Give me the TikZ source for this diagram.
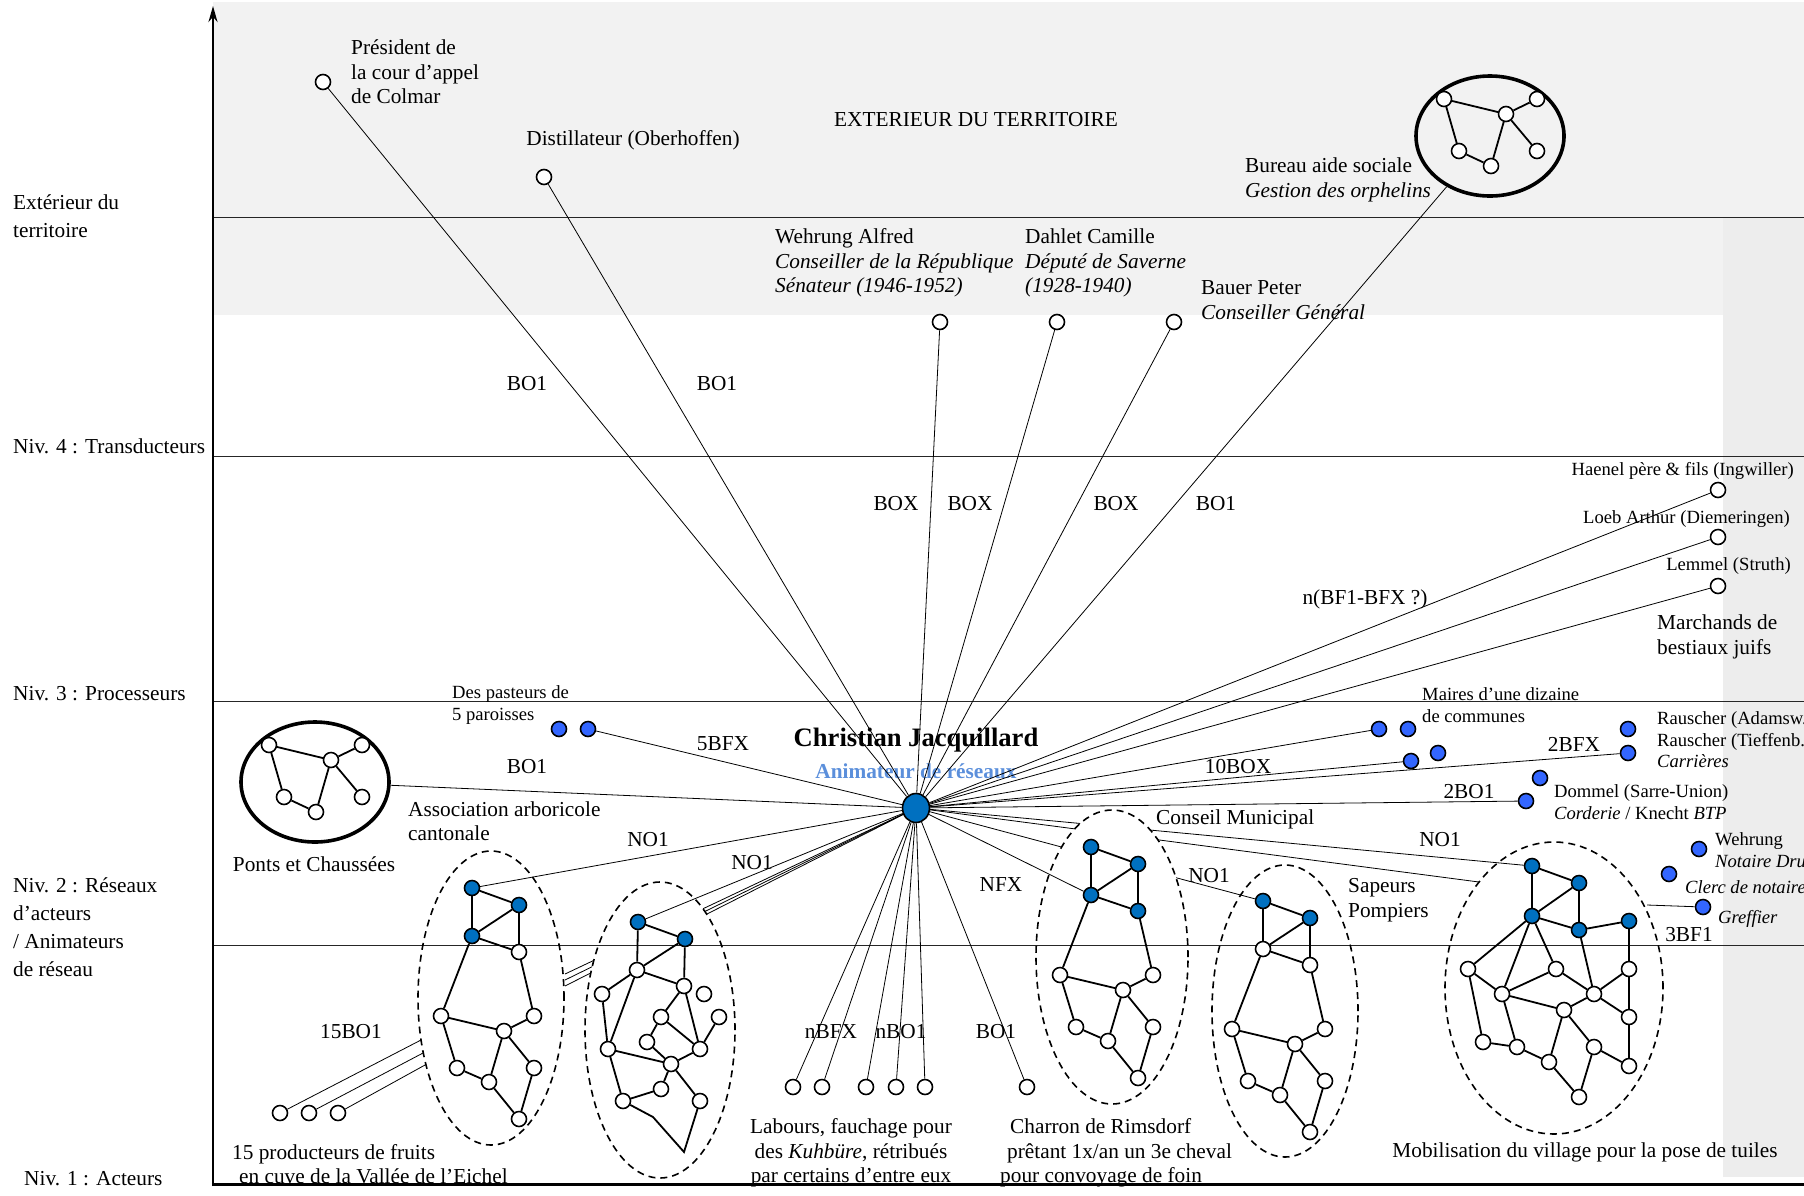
\documentclass[tikz,border=0pt]{standalone}
\usepackage{fontspec}
\setmainfont{Liberation Serif}
\usetikzlibrary{shapes.geometric,arrows.meta}
\pgfdeclarelayer{bg}
\pgfdeclarelayer{mid}
\pgfsetlayers{bg,mid,main}
\definecolor{netblue}{HTML}{0070C0}
\definecolor{dotblue}{HTML}{3366FF}
\definecolor{animblue}{HTML}{5B8FDB}
\definecolor{topgray}{HTML}{F2F2F2}
\definecolor{stripgray}{HTML}{EDEDED}
\tikzset{
 txt/.style={font=\fontsize{21.3}{24.5}\selectfont, inner sep=0pt, align=left},
 stxt/.style={font=\fontsize{18.6}{21.5}\selectfont, inner sep=0pt, align=left},
 lvltxt/.style={font=\fontsize{21.3}{28.2}\selectfont, inner sep=0pt, align=left, anchor=west},
 elab/.style={font=\fontsize{21.3}{24.5}\selectfont, inner sep=0pt},
 wn/.style={circle, draw, line width=1.6pt, fill=white, minimum size=15pt, inner sep=0pt},
 bn/.style={wn, fill=netblue},
 dn/.style={wn, fill=dotblue},
 nedge/.style={line width=1.8pt},
 conn/.style={line width=0.8pt},
 netell/.style={ellipse, draw, dash pattern=on 7pt off 5pt, line width=1.6pt, inner sep=0pt},
 ringell/.style={ellipse, draw, line width=3.6pt, inner sep=0pt, minimum width=148pt, minimum height=120pt},
 lvlline/.style={line width=1pt, black!85},
}
\newcommand\treenet[4]{%
 \foreach \nn/\px/\py in {1/0/0,2/47/17,3/0/48,4/47/64,5/-31/128,6/62/128,7/32/143,8/-15/180,9/17/194,10/62/180,11/47/231}{%
  \ifnum\nn>#4\relax
   \node[wn] (#1\nn) at ({#2+\px},{#3+\py}) {};
  \else
   \node[bn] (#1\nn) at ({#2+\px},{#3+\py}) {};
  \fi
 }%
 \foreach \ea/\eb in {1/2,1/3,2/3,2/4,3/4,3/5,4/6,5/7,6/7,5/8,8/9,7/9,7/10,10/11,9/11}{\draw[nedge] (#1\ea) -- (#1\eb);}%
}
\newcommand\ringnet[3]{%
 \node[ringell] (#1ell) at (#2,#3) {};
 \foreach \nn/\px/\py in {1/-46/-37,2/47/-37,3/16/-22,4/-31/15,5/1/30,6/47/15}{\node[wn] (#1\nn) at ({#2+\px},{#3+\py}) {};}
 \foreach \ea/\eb in {1/3,3/2,1/4,4/5,5/3,3/6}{\draw[nedge] (#1\ea) -- (#1\eb);}%
}
\begin{document}
\begin{tikzpicture}[x=1pt,y=-1pt]
\useasboundingbox (0,0) rectangle (1804,1195);
\begin{pgfonlayer}{bg}
 \fill[topgray] (213,2) rectangle (1804,315);
 \fill[stripgray] (1723,217) rectangle (1804,1177);
\end{pgfonlayer}

% level labels
\node[lvltxt] (lv0) at (13,216) {Extérieur du\\territoire};
\node[lvltxt] (lv4) at (13,446) {Niv. 4 : Transducteurs};
\node[lvltxt] (lv3) at (13,694) {Niv. 3 : Processeurs};
\node[lvltxt] (lv2) at (13,927) {Niv. 2 : Réseaux\\d’acteurs\\/ Animateurs\\de réseau};
\node[lvltxt] (lv1) at (24,1179) {Niv. 1 : Acteurs};

% axes
\draw[line width=2.4pt, -{Stealth[length=16pt,width=9pt]}] (213,1186) -- (213,6);
\draw[line width=3pt] (211.8,1184) -- (1804,1184);

% centre
\node[ellipse, draw, line width=1.6pt, fill=netblue, minimum width=27pt, minimum height=29pt, inner sep=0pt] (cj) at (916,808) {};
\node[font=\bfseries\fontsize{26.6}{30}\selectfont, inner sep=0pt] (cjname) at (916,740) {Christian Jacquillard};
\node[font=\bfseries\fontsize{21.3}{24}\selectfont, text=animblue, inner sep=0pt] (cjrole) at (916,771) {Animateur de réseaux};

% exterior
\node[wn] (pres) at (323,82) {};
\node[txt, anchor=west] (preslab) at (351,72) {Président de\\la cour d’appel\\de Colmar};
\node[wn] (dist) at (544,177) {};
\node[txt] (distlab) at (633,140) {Distillateur (Oberhoffen)};
\node[txt] (ext) at (976,120) {EXTERIEUR DU TERRITOIRE};
\ringnet{bur}{1490}{136}
\node[txt, anchor=west] (burlab) at (1245,180) {Bureau aide sociale\\\textit{Gestion des orphelins}};
\node[wn] (walf) at (940,322) {};
\node[txt, anchor=west] (walflab) at (775,263) {Wehrung Alfred\\\textit{Conseiller de la République}\\\textit{Sénateur (1946-1952)}};
\node[wn] (dahl) at (1057,322) {};
\node[txt, anchor=west] (dahllab) at (1025,263) {Dahlet Camille\\\textit{Député de Saverne}\\\textit{(1928-1940)}};
\node[wn] (bauer) at (1174,322) {};
\node[txt, anchor=west] (bauerlab) at (1201,300) {Bauer Peter\\\textit{Conseiller Général}};

% marchands
\node[wn] (haen) at (1718,490) {};
\node[stxt, anchor=east] (haenlab) at (1794,471) {Haenel père \& fils (Ingwiller)};
\node[wn] (loeb) at (1718,537) {};
\node[stxt, anchor=east] (loeblab) at (1790,519) {Loeb Arthur (Diemeringen)};
\node[wn] (lemm) at (1718,586) {};
\node[stxt, anchor=east] (lemmlab) at (1791,566) {Lemmel (Struth)};
\node[txt, anchor=west] (marchlab) at (1657,637) {Marchands de\\bestiaux juifs};

% processeurs
\node[dn] (past1) at (559,729) {};
\node[dn] (past2) at (588,729) {};
\node[stxt, anchor=west] (pastlab) at (452,705) {Des pasteurs de\\5 paroisses};
\node[dn] (m1) at (1379,729) {};
\node[dn] (m2) at (1408,729) {};
\node[dn] (m3) at (1411,761) {};
\node[dn] (m4) at (1438,753) {};
\node[stxt, anchor=west] (mairlab) at (1422,705) {Maires d’une dizaine\\de communes};
\node[dn] (rau1) at (1628,729) {};
\node[dn] (rau2) at (1628,753) {};
\node[stxt, anchor=west] (raulab) at (1657,740) {Rauscher (Adamsw.\\Rauscher (Tieffenb.\\\textit{Carrières}};
\node[dn] (dom1) at (1540,778) {};
\node[dn] (dom2) at (1526,801) {};
\node[stxt, anchor=west] (domlab) at (1554,802) {Dommel (Sarre-Union)\\\textit{Corderie} / Knecht \textit{BTP}};
\node[dn] (wehr) at (1699,849) {};
\node[stxt, anchor=west] (wehrlab) at (1715,850) {Wehrung\\\textit{Notaire Dru}};
\node[dn] (clerc) at (1669,874) {};
\node[stxt, anchor=west] (clerclab) at (1685,887) {\textit{Clerc de notaire}};
\node[dn] (greff) at (1703,907) {};
\node[stxt, anchor=west] (grefflab) at (1718,919) {\textit{Greffier}};

% Ponts et Chaussees
\ringnet{pon}{315}{782}
\node[txt] (ponlab) at (314,864) {Ponts et Chaussées};

% network ellipses
\node[netell, minimum width=146pt, minimum height=294pt] (Aell) at (491,998) {};
\node[netell, minimum width=150pt, minimum height=296pt] (Bell) at (660,1030) {};
\node[netell, minimum width=152pt, minimum height=294pt] (Cell) at (1112,957) {};
\node[netell, minimum width=146pt, minimum height=292pt] (Dell) at (1285,1011) {};
\node[netell, minimum width=218pt, minimum height=292pt] (Eell) at (1554,988) {};

% networks
\treenet{A}{472}{888}{3}
\treenet{C}{1091}{847}{4}
\treenet{D}{1263}{901}{2}
\foreach \nn/\px/\py in {1/638/922,2/685/939}{\node[bn] (B\nn) at (\px,\py) {};}
\foreach \nn/\px/\py in {3/637/970,4/684/986,5/704/994,6/602/994,7/661/1017,8/719/1017,9/647/1042,10/608/1049,11/700/1049,12/671/1064,13/661/1089,14/623/1101,15/700/1101}{\node[wn] (B\nn) at (\px,\py) {};}
\coordinate (Bc) at (653,1117);
\coordinate (Bbot) at (684,1152);
\foreach \ea/\eb in {1/2,1/3,2/3,2/4,3/4,3/6,3/10,4/7,4/11,7/9,7/11,9/12,6/10,10/12,11/12,11/8,12/13,12/15,13/14,10/14}{\draw[nedge] (B\ea) -- (B\eb);}
\draw[nedge] (B14) -- (Bc) -- (Bbot) -- (B15);
\foreach \nn/\px/\py in {1/1532/866,2/1579/883,3/1532/916,4/1579/930,5/1629/921}{\node[bn] (E\nn) at (\px,\py) {};}
\foreach \nn/\px/\py in {6/1468/969,7/1556/969,8/1629/969,9/1502/994,10/1594/994,11/1564/1010,12/1629/1017,13/1483/1042,14/1517/1047,15/1594/1047,16/1549/1062,17/1629/1066,18/1579/1097}{\node[wn] (E\nn) at (\px,\py) {};}
\foreach \ea/\eb in {1/2,1/3,2/3,2/4,3/4,4/5,5/8,3/6,3/9,3/7,4/10,6/9,6/13,9/7,7/10,9/11,9/14,10/8,10/12,11/10,11/16,11/15,12/17,8/12,15/17,15/18,16/18,13/14,14/16}{\draw[nedge] (E\ea) -- (E\eb);}

% bottom actors
\node[wn] (prod1) at (280,1113) {};
\node[wn] (prod2) at (309,1113) {};
\node[wn] (prod3) at (338,1113) {};
\node[wn] (lab1) at (793,1087) {};
\node[wn] (lab2) at (822,1087) {};
\node[wn] (lab3) at (866,1087) {};
\node[wn] (lab4) at (896,1087) {};
\node[wn] (lab5) at (925,1087) {};
\node[wn] (labbo) at (1027,1087) {};

% texts
\node[txt, anchor=west] (asslab) at (408,821) {Association arboricole\\cantonale};
\node[txt, anchor=west] (conslab) at (1156,819) {Conseil Municipal};
\node[txt, anchor=west] (saplab) at (1348,900) {Sapeurs\\Pompiers};
\node[txt, anchor=west] (prodlab) at (232,1164) {15 producteurs de fruits\\\hspace*{7pt}en cuve de la Vallée de l’Eichel};
\node[txt, align=center] (lablab) at (851,1153) {Labours, fauchage pour\\des \textit{Kuhbüre}, rétribués\\par certains d’entre eux};
\node[txt, anchor=west] (charlab) at (1000,1153) {\hspace*{10pt}Charron de Rimsdorf\\\hspace*{7pt}prêtant 1x/an un 3e cheval\\pour convoyage de foin};
\node[txt] (moblab) at (1585,1152) {Mobilisation du village pour la pose de tuiles};

% edge labels
\node[elab] (e1) at (527,384) {BO1};
\node[elab] (e2) at (717,384) {BO1};
\node[elab] (e3) at (896,504) {BOX};
\node[elab] (e4) at (970,504) {BOX};
\node[elab] (e5) at (1116,504) {BOX};
\node[elab] (e6) at (1216,504) {BO1};
\node[elab] (e7) at (1365,599) {n(BF1-BFX ?)};
\node[elab] (e8) at (723,744) {5BFX};
\node[elab] (e9) at (527,767) {BO1};
\node[elab] (e10) at (648,840) {NO1};
\node[elab] (e11) at (752,863) {NO1};
\node[elab] (e12) at (1001,885) {NFX};
\node[elab] (e13) at (1209,876) {NO1};
\node[elab] (e14) at (1238,767) {10BOX};
\node[elab] (e15) at (1574,744) {2BFX};
\node[elab] (e16) at (1469,792) {2BO1};
\node[elab] (e17) at (1440,840) {NO1};
\node[elab] (e18) at (1689,935) {3BF1};
\node[elab] (e19) at (351,1032) {15BO1};
\node[elab] (e20) at (831,1032) {nBFX};
\node[elab] (e21) at (901,1032) {nBO1};
\node[elab] (e22) at (996,1032) {BO1};

% free ends
\coordinate (tri1) at (565,974);
\coordinate (tri2) at (565,980);
\coordinate (tri3) at (565,986);
\coordinate (mobhit) at (1479,882);
\coordinate (hitA1) at (421,1040);
\coordinate (hitA2) at (423,1053);
\coordinate (hitA3) at (425,1065);
\coordinate (hitE) at (1647,905);

% connectors
\foreach \t in {pres,dist,walf,dahl,bauer,burell,haen,loeb,lemm,past2,ponell,A1,B1,lab1,lab2,lab3,lab4,lab5,labbo,m1,m3,rau2,dom2,C3}{\draw[conn] (cj) -- (\t);}
\draw[conn] (prod1) -- (hitA1);
\draw[conn] (prod2) -- (hitA2);
\draw[conn] (prod3) -- (hitA3);
\draw[conn] (hitE) -- (greff);

\begin{pgfonlayer}{bg}
 \draw[conn] (cj) -- (tri1);
 \draw[conn] (cj) -- (tri2);
 \draw[conn] (cj) -- (tri3);
 \draw[conn] (cj) -- (E1);
 \draw[conn] (cj) -- (mobhit);
 \draw[conn] (cj) -- (D1);
\end{pgfonlayer}
\begin{pgfonlayer}{mid}
 \fill[white] (Bell.center) ellipse [x radius=75, y radius=148];
 \fill[white] (Cell.center) ellipse [x radius=76, y radius=147];
 \draw[lvlline] (213,217) -- (1804,217);
 \draw[lvlline] (213,456) -- (1804,456);
 \draw[lvlline] (213,701) -- (1804,701);
 \draw[lvlline] (213,945) -- (1804,945);
\end{pgfonlayer}
\end{tikzpicture}
\end{document}
